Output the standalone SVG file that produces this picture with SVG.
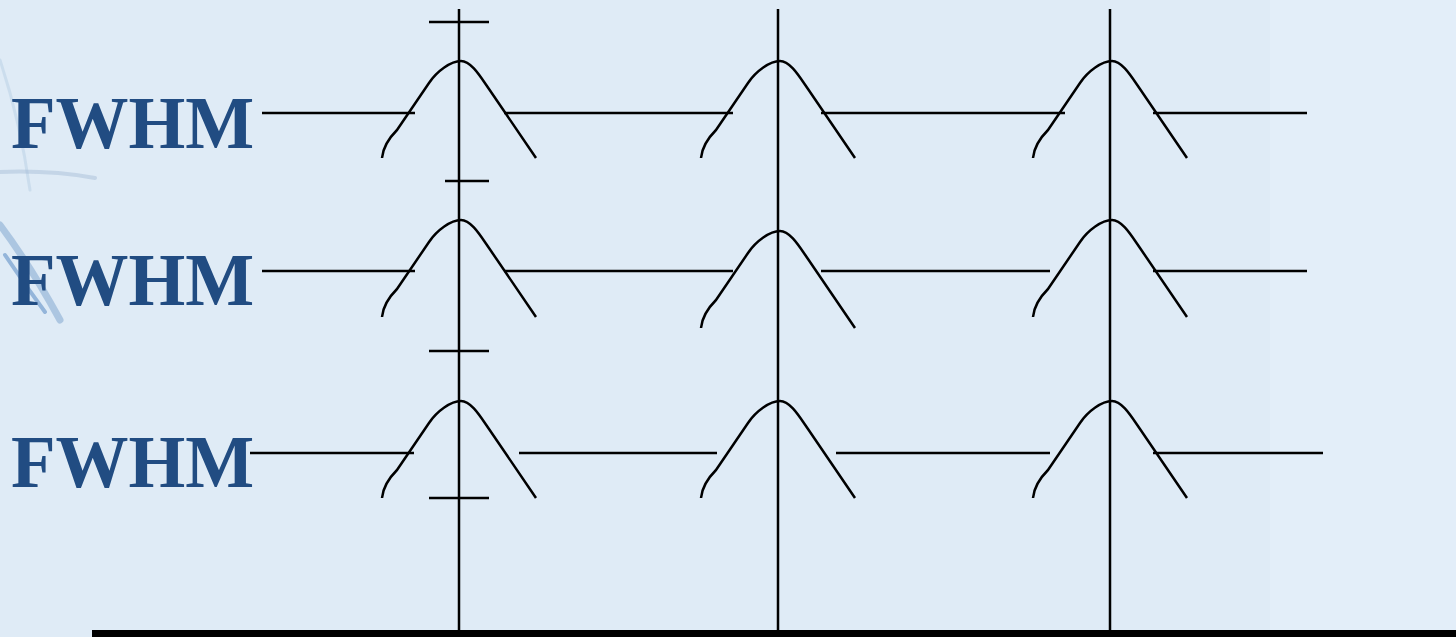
<svg xmlns="http://www.w3.org/2000/svg" width="1456" height="637" viewBox="0 0 1456 637">
<style>
.ln{stroke:#000;stroke-width:2.5;fill:none;stroke-linecap:butt}
.cv{stroke:#000;stroke-width:2.5;fill:none;stroke-linejoin:round}
.lbl{font-family:"Liberation Serif","Times New Roman",serif;font-weight:bold;font-size:73px;fill:#214c82}
</style>
<defs>
<path id="peak" class="cv" d="M -77,97 C -76,86 -71,78 -62,69 L -30,22 C -22,10 -8,0 2,0 C 12,0 21,15 30,28 L 77,97"/>
</defs>
<rect x="0" y="0" width="1456" height="637" fill="#e3eef9"/>
<rect x="0" y="0" width="1270" height="637" fill="#dbe8f4" opacity="0.5"/>
<g id="decor" fill="none" stroke-linecap="round">
<path d="M 0,60 Q 20,120 30,190" stroke="#b4cbe3" stroke-width="3" opacity="0.45"/>
<path d="M 0,172 Q 50,170 95,178" stroke="#9ab5d3" stroke-width="4" opacity="0.4"/>
<path d="M 0,225 Q 30,265 60,320" stroke="#6f99c8" stroke-width="7" opacity="0.45"/>
<path d="M 5,255 Q 25,285 45,312" stroke="#4a80bd" stroke-width="4" opacity="0.5"/>
</g>
<g id="labels">
<text id="fwhm1" class="lbl" x="11" y="148">FWHM</text>
<text id="fwhm2" class="lbl" x="11" y="305">FWHM</text>
<text id="fwhm3" class="lbl" x="11" y="487">FWHM</text>
</g>
<g id="axes">
<rect x="92" y="630" width="1364" height="7" fill="#000"/>
<line class="ln" x1="459" y1="9" x2="459" y2="631"/>
<line class="ln" x1="778" y1="9" x2="778" y2="631"/>
<line class="ln" x1="1110" y1="9" x2="1110" y2="631"/>
<line class="ln" x1="429" y1="22" x2="489" y2="22"/>
<line class="ln" x1="445" y1="181" x2="489" y2="181"/>
<line class="ln" x1="429" y1="351" x2="489" y2="351"/>
<line class="ln" x1="429" y1="498" x2="489" y2="498"/>
</g>
<g id="peaks">
<use href="#peak" transform="translate(459,61)"/>
<use href="#peak" transform="translate(778,61)"/>
<use href="#peak" transform="translate(1110,61)"/>
<use href="#peak" transform="translate(459,220)"/>
<use href="#peak" transform="translate(778,231)"/>
<use href="#peak" transform="translate(1110,220)"/>
<use href="#peak" transform="translate(459,401)"/>
<use href="#peak" transform="translate(778,401)"/>
<use href="#peak" transform="translate(1110,401)"/>
</g>
<g id="connectors">
<line class="ln" x1="262" y1="113" x2="415" y2="113"/>
<line class="ln" x1="504" y1="113" x2="733" y2="113"/>
<line class="ln" x1="821" y1="113" x2="1065" y2="113"/>
<line class="ln" x1="1153" y1="113" x2="1307" y2="113"/>
<line class="ln" x1="262" y1="271" x2="415" y2="271"/>
<line class="ln" x1="504" y1="271" x2="733" y2="271"/>
<line class="ln" x1="821" y1="271" x2="1050" y2="271"/>
<line class="ln" x1="1153" y1="271" x2="1307" y2="271"/>
<line class="ln" x1="250" y1="453" x2="414" y2="453"/>
<line class="ln" x1="519" y1="453" x2="717" y2="453"/>
<line class="ln" x1="836" y1="453" x2="1050" y2="453"/>
<line class="ln" x1="1153" y1="453" x2="1323" y2="453"/>
</g>
</svg>
